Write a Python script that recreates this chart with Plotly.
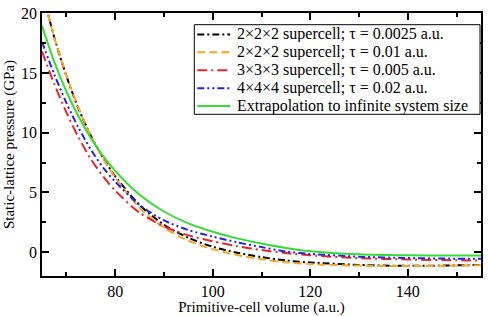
import plotly.graph_objects as go

vol = [65, 67.5, 70, 72.5, 75, 77.5, 80, 85, 90, 95, 100, 105, 110, 115, 120, 130, 140, 150, 155]

p_222_0025 = [21.9, 18.0, 14.75, 12.0, 9.75, 7.9, 6.35, 3.95, 2.3, 1.2, 0.45, -0.05, -0.42, -0.7, -0.87, -1.07, -1.15, -1.11, -1.07]
p_222_001 = [21.9, 18.0, 14.8, 12.05, 9.75, 7.85, 6.25, 3.7, 2.05, 0.95, 0.25, -0.25, -0.6, -0.85, -1.0, -1.13, -1.17, -1.13, -1.1]
p_333_0005 = [16.8, 14.1, 11.7, 9.6, 7.8, 6.35, 5.15, 3.3, 2.15, 1.4, 0.9, 0.5, 0.17, -0.08, -0.27, -0.5, -0.62, -0.68, -0.7]
p_444_002 = [17.6, 14.9, 12.5, 10.4, 8.6, 7.1, 5.9, 3.95, 2.65, 1.85, 1.3, 0.82, 0.42, 0.05, -0.15, -0.38, -0.5, -0.55, -0.55]
p_extrap = [18.95, 15.95, 13.45, 11.35, 9.55, 8.05, 6.8, 4.8, 3.4, 2.4, 1.7, 1.15, 0.72, 0.35, 0.08, -0.18, -0.27, -0.29, -0.29]

y_ticks = [0, 5, 10, 15, 20]
x_ticks = [80, 100, 120, 140]

names = [
    "2×2×2 supercell; τ = 0.0025 a.u.",
    "2×2×2 supercell; τ = 0.01 a.u.",
    "3×3×3 supercell; τ = 0.005 a.u.",
    "4×4×4 supercell; τ = 0.02 a.u.",
    "Extrapolation to infinite system size",
]
series = [p_222_0025, p_222_001, p_333_0005, p_444_002, p_extrap]
colors = ["#000000", "#F5A623", "#E8242B", "#2424E0", "#33DD33"]
dashes = ["7px,3px,2px,3px", "8px,4px", "10px,4px,2px,4px", "7px,3px,2px,3px,2px,3px", "solid"]

font = "Liberation Serif, Times New Roman, serif"

fig = go.Figure()
for n, s, c, d in zip(names, series, colors, dashes):
    fig.add_trace(go.Scatter(x=vol, y=s, mode="lines", name=n, showlegend=False,
                             line=dict(color=c, width=2, dash=d, shape="spline", smoothing=0.8)))

axis_common = dict(showline=True, linecolor="black", linewidth=1.5, mirror="allticks",
                   ticks="inside", ticklen=7, tickwidth=1.5, tickcolor="black",
                   showgrid=False, zeroline=False, ticklabeloverflow="allow",
                   tickfont=dict(family=font, size=16, color="black"))

fig.update_xaxes(range=[65, 155], tickmode="array", tickvals=x_ticks,
                 ticktext=[str(v) for v in x_ticks],
                 minor=dict(ticks="inside", tickmode="array", tickvals=[70, 90, 110, 130, 150],
                            ticklen=4, tickwidth=1.5, tickcolor="black"),
                 title=dict(text="Primitive-cell volume (a.u.)", font=dict(family=font, size=15, color="black"), standoff=1),
                 **axis_common)
fig.update_yaxes(range=[-2, 20.02], tickmode="array", tickvals=y_ticks,
                 ticktext=[str(v) for v in y_ticks],
                 minor=dict(ticks="inside", tickmode="array", tickvals=[-2.5, 2.5, 7.5, 12.5, 17.5],
                            ticklen=4, tickwidth=1.5, tickcolor="black"),
                 title=dict(text="Static-lattice pressure (GPa)", font=dict(family=font, size=15, color="black"), standoff=3),
                 **axis_common)

# manual legend (paper coordinates)
L, R, T, B = 42, 483, 8, 278
def px_x(p):
    return (p - L) / (R - L)
def px_y(p):
    return 1 - (p - T) / (B - T)

shapes = [dict(type="rect", xref="paper", yref="paper",
               x0=px_x(195), x1=px_x(482), y0=px_y(112), y1=px_y(20),
               line=dict(color="black", width=1), fillcolor="white", layer="above")]
annotations = []
row_y = [30, 48.4, 66.8, 85.2, 103.6]
for n, c, d, ry in zip(names, colors, dashes, row_y):
    shapes.append(dict(type="line", xref="paper", yref="paper",
                       x0=px_x(198), x1=px_x(231), y0=px_y(ry), y1=px_y(ry),
                       line=dict(color=c, width=2, dash=d), layer="above"))
    annotations.append(dict(text=n, xref="paper", yref="paper", x=px_x(237), y=px_y(ry),
                            xanchor="left", yanchor="middle", showarrow=False,
                            height=16, borderpad=0, valign="middle",
                            font=dict(family=font, size=16, color="black")))

fig.update_layout(
    width=488, height=316,
    margin=dict(l=42, r=5, t=8, b=38),
    plot_bgcolor="white", paper_bgcolor="white",
    shapes=shapes, annotations=annotations,
    showlegend=False,
)

fig.write_html("out.html")
